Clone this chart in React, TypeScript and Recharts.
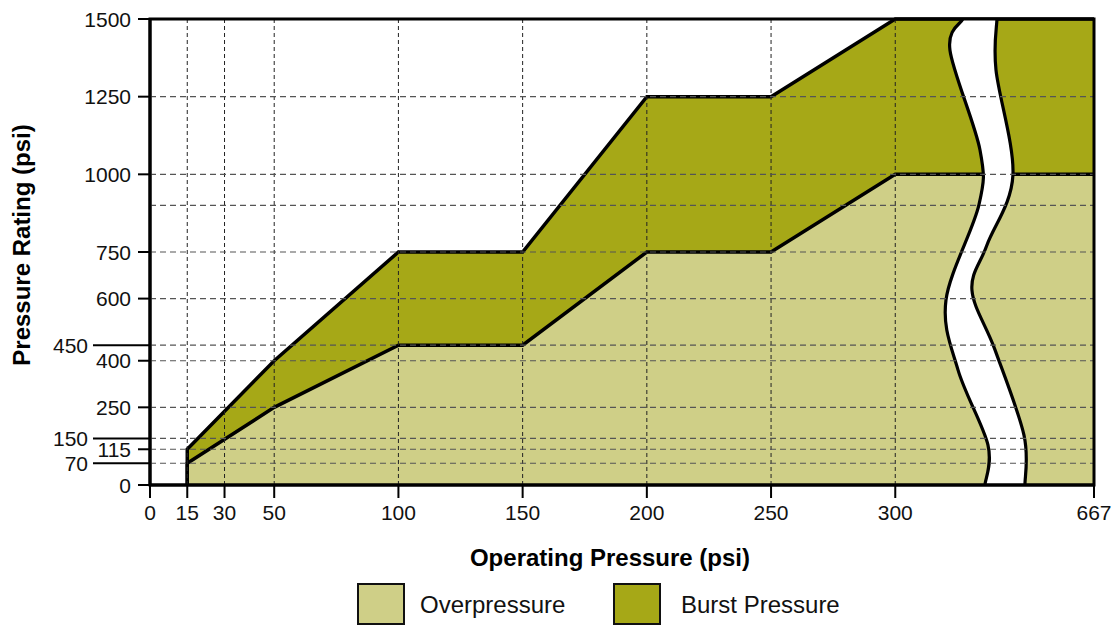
import React from "react";
import {
  ComposedChart,
  Area,
  XAxis,
  YAxis,
  CartesianGrid,
  ReferenceArea,
} from "recharts";

// operating pressure (psi) at each vertex of the two bands
const operating = [15, 15, 50, 100, 150, 200, 250, 300, 667];
const overpressure = [0, 70, 250, 450, 450, 750, 750, 1000, 1000];
const burstPressure = [0, 115, 400, 750, 750, 1250, 1250, 1500, 1500];

const xTicks = [0, 15, 30, 50, 100, 150, 200, 250, 300, 667];
const yTicks = [0, 70, 115, 150, 250, 400, 450, 600, 750, 1000, 1250, 1500];
const xGrid = [15, 30, 50, 100, 150, 200, 250, 300];
const yGrid = [70, 115, 150, 250, 400, 450, 600, 750, 900, 1000, 1250];
const longTicks = [70, 150, 450];

// the x axis is broken after 300: 300..667 is squeezed into 80 units
const BREAK_AT = 300;
const AXIS_END = 380;
const MAX_X = 667;
const pos = (v: number) =>
  v <= BREAK_AT
    ? v
    : BREAK_AT + ((v - BREAK_AT) * (AXIS_END - BREAK_AT)) / (MAX_X - BREAK_AT);

const data = operating.map((v, i) => ({
  x: pos(v),
  over: overpressure[i],
  burst: burstPressure[i],
}));

const LIGHT = "#CFCF87";
const DARK = "#A6A817";
const FONT = "'Liberation Sans', Arial, Helvetica, sans-serif";

const XTick = (props: any) => {
  const { x, y, index } = props;
  return (
    <g>
      <line x1={x} x2={x} y1={y} y2={y + 13} stroke="#000" strokeWidth={2} />
      <text x={x} y={y + 35} textAnchor="middle" fontSize={21} fontFamily={FONT} fill="#111">
        {xTicks[index]}
      </text>
    </g>
  );
};

const YTick = (props: any) => {
  const { x, y, payload } = props;
  const long = longTicks.includes(payload.value);
  return (
    <g>
      <line x1={long ? x - 57 : x - 12} x2={x} y1={y} y2={y} stroke="#000" strokeWidth={2} />
      <text
        x={long ? x - 62 : x - 19}
        y={y + 7.5}
        textAnchor="end"
        fontSize={21}
        fontFamily={FONT}
        fill="#111"
      >
        {payload.value}
      </text>
    </g>
  );
};

// wavy break band, shape as fractions of its box
const breakLeft = [
  [0.237, 0], [0.103, 0.067], [0.413, 0.281], [0.402, 0.399],
  [0.062, 0.603], [0.186, 0.753], [0.495, 0.914], [0.464, 1],
];
const breakRight = [
  [0.588, 0], [0.578, 0.109], [0.753, 0.335], [0.485, 0.485],
  [0.33, 0.582], [0.568, 0.71], [0.867, 0.893], [0.877, 1],
];

function curve(pts: number[][]) {
  let d = "";
  for (let i = 0; i < pts.length - 1; i++) {
    const p0 = pts[i - 1] || pts[i];
    const p1 = pts[i];
    const p2 = pts[i + 1];
    const p3 = pts[i + 2] || p2;
    const c1 = [p1[0] + (p2[0] - p0[0]) / 6, p1[1] + (p2[1] - p0[1]) / 6];
    const c2 = [p2[0] - (p3[0] - p1[0]) / 6, p2[1] - (p3[1] - p1[1]) / 6];
    d += ` C${c1[0]},${c1[1]} ${c2[0]},${c2[1]} ${p2[0]},${p2[1]}`;
  }
  return d;
}

const BreakBand = (props: any) => {
  const { x, y, width, height } = props;
  const map = (pts: number[][]) => pts.map(([fx, fy]) => [x + fx * width, y + fy * height]);
  const L = map(breakLeft);
  const R = map(breakRight);
  const Rr = [...R].reverse();
  const fill =
    `M${L[0][0]},${L[0][1]}` + curve(L) + ` L${Rr[0][0]},${Rr[0][1]}` + curve(Rr) + " Z";
  return (
    <g>
      <path d={fill} fill="#fff" stroke="none" />
      <path d={`M${L[0][0]},${L[0][1]}` + curve(L)} fill="none" stroke="#000" strokeWidth={3.2} />
      <path d={`M${R[0][0]},${R[0][1]}` + curve(R)} fill="none" stroke="#000" strokeWidth={3.2} />
    </g>
  );
};

const YTitle = (props: any) => {
  const vb = props.viewBox || { x: 0, y: 19, width: 150, height: 466 };
  const cx = vb.x + 30;
  const cy = vb.y + vb.height / 2 - 7;
  return (
    <text
      x={cx}
      y={cy}
      transform={`rotate(-90, ${cx}, ${cy})`}
      textAnchor="middle"
      fontSize={24}
      fontWeight="bold"
      fontFamily={FONT}
      fill="#000"
    >
      Pressure Rating (psi)
    </text>
  );
};

const XTitle = (props: any) => {
  const vb = props.viewBox || { x: 150, y: 485, width: 944, height: 40 };
  return (
    <text
      x={vb.x + vb.width / 2 - 12}
      y={vb.y + 81}
      textAnchor="middle"
      fontSize={24}
      fontWeight="bold"
      fontFamily={FONT}
      fill="#000"
    >
      Operating Pressure (psi)
    </text>
  );
};

const legendItems = [
  { name: "Overpressure", color: LIGHT, left: 357, textLeft: 420 },
  { name: "Burst Pressure", color: DARK, left: 613, textLeft: 681 },
];

export default function App() {
  return (
    <div style={{ position: "absolute", left: 0, top: 0, width: 1118, height: 625, background: "#fff" }}>
      <ComposedChart
        width={1118}
        height={625}
        data={data}
        margin={{ top: 19, right: 24, bottom: 100, left: 0 }}
      >
        <XAxis
          dataKey="x"
          type="number"
          domain={[0, AXIS_END]}
          ticks={xTicks.map(pos)}
          interval={0}
          tick={<XTick />}
          tickLine={false}
          tickSize={0}
          tickMargin={0}
          axisLine={{ stroke: "#000", strokeWidth: 3 }}
          height={40}
          label={<XTitle />}
        />
        <YAxis
          type="number"
          domain={[0, 1500]}
          ticks={yTicks}
          interval={0}
          tick={<YTick />}
          tickLine={false}
          tickSize={0}
          tickMargin={0}
          axisLine={{ stroke: "#000", strokeWidth: 3 }}
          width={150}
          label={<YTitle />}
        />
        <Area
          type="linear"
          dataKey="burst"
          name="Burst Pressure"
          stroke="#000"
          strokeWidth={3.5}
          fill={DARK}
          fillOpacity={1}
          dot={false}
          activeDot={false}
          isAnimationActive={false}
        />
        <Area
          type="linear"
          dataKey="over"
          name="Overpressure"
          stroke="#000"
          strokeWidth={3.5}
          fill={LIGHT}
          fillOpacity={1}
          dot={false}
          activeDot={false}
          isAnimationActive={false}
        />
        <ReferenceArea
          x1={318}
          x2={357}
          y1={0}
          y2={1500}
          shape={(p: any) => <BreakBand {...p} />}
          zIndex={300}
        />
        <CartesianGrid
          horizontal={false}
          verticalValues={xGrid}
          stroke="#222"
          strokeDasharray="4 3"
          strokeWidth={1}
          zIndex={500}
        />
        <CartesianGrid
          vertical={false}
          horizontalValues={yGrid}
          stroke="#555"
          strokeDasharray="6 4"
          strokeWidth={1.2}
          zIndex={500}
        />
        <ReferenceArea
          x1={0}
          x2={AXIS_END}
          y1={0}
          y2={1500}
          fill="none"
          fillOpacity={0}
          stroke="#000"
          strokeWidth={3}
          zIndex={600}
        />
      </ComposedChart>
      {legendItems.map((it) => (
        <React.Fragment key={it.name}>
          <div
            style={{
              position: "absolute",
              left: it.left,
              top: 583,
              width: 44,
              height: 38,
              background: it.color,
              border: "2px solid #111",
            }}
          />
          <div
            style={{
              position: "absolute",
              left: it.textLeft,
              top: 590,
              fontFamily: FONT,
              fontSize: 24,
              lineHeight: "30px",
              color: "#111",
              whiteSpace: "nowrap",
            }}
          >
            {it.name}
          </div>
        </React.Fragment>
      ))}
    </div>
  );
}
